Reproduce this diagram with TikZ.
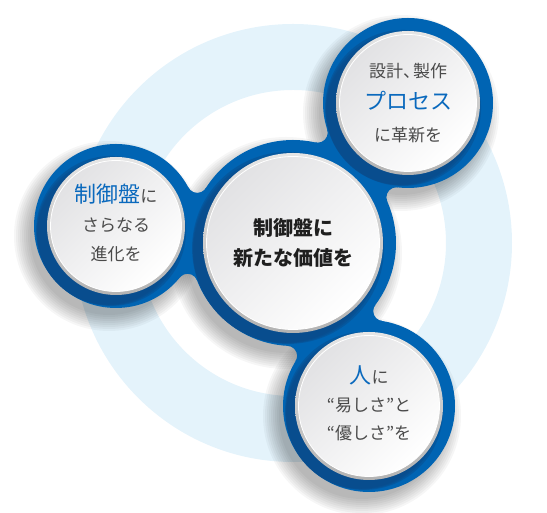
\documentclass[tikz,border=0pt]{standalone}
\usepackage{fontspec}
\setmainfont{Noto Sans CJK JP}
\usetikzlibrary{calc,intersections}

\definecolor{ringblue}{HTML}{E4F3FB}
\definecolor{rimblue}{HTML}{0064B3}
\definecolor{rimdark}{HTML}{0B4A88}
\definecolor{keyblue}{HTML}{0A69BD}
\definecolor{txtgray}{HTML}{4A4A4A}
\definecolor{facegray}{HTML}{E2E2E4}

\newcommand{\keyword}{\fontsize{22}{22}\selectfont\color{keyblue}}

\tikzset{
  sattext/.style={align=center, text=txtgray, font=\fontsize{17}{29}\selectfont},
  hubtext/.style={align=center, text=black!88, font=\bfseries\fontsize{20}{30}\selectfont}
}

\begin{document}
\begin{tikzpicture}[x=1pt, y=1pt]
\useasboundingbox (0,0) rectangle (547,513);

% centres
\coordinate (hub) at (293,270);
\coordinate (tsat) at (408,410);
\coordinate (lsat) at (116,287);
\coordinate (bsat) at (369,107);

% light ring behind
\fill[ringblue, even odd rule] (hub) circle[radius=219] circle[radius=153];

% soft shadows
\foreach \c/\R in {hub/103, tsat/85, lsat/82, bsat/86}
  \foreach \k in {0,...,8}
    \fill[black, opacity=.035] ($(\c)+(-7,-10)$) circle[radius=\R-3+2*\k];

% blue discs
\foreach \c/\R in {hub/103, tsat/85, lsat/82, bsat/86}
  \fill[rimblue] (\c) circle[radius=\R];

% necks between hub and satellites
\foreach \s/\r in {tsat/95, lsat/92, bsat/96}{
  \path[name path=hubr] (hub) circle[radius=113];
  \path[name path=satr] (\s) circle[radius=\r];
  \path[name intersections={of=hubr and satr, name=f}];
  \foreach \f in {f-1,f-2}{
    \begin{scope}[even odd rule]
      \clip (0,0) rectangle (547,513) (\f) circle[radius=10];
      \fill[rimblue] (hub) -- (\f) -- (\s) -- cycle;
    \end{scope}
  }
}

% dark side of the rims
\foreach \c/\R in {hub/103, tsat/85, lsat/82, bsat/86}
  \foreach \o in {7,9,11}
    \fill[rimdark, opacity=.45] ($(\c)+(225:\o)$) circle[radius=\R-\o];

% white faces
\foreach \c/\w in {hub/90, tsat/72, lsat/69, bsat/74}{
  \shade[top color=white!90!black, bottom color=white!70!black] (\c) circle[radius=\w];
  \shadedraw[draw=white, line width=.8pt, top color=facegray, bottom color=white, shading angle=45] (\c) circle[radius=\w-3.5];
}

% texts
\node[hubtext] (value) at (hub) {制御盤に\\新たな価値を};
\node[sattext, font=\fontsize{17}{32}\selectfont] (process) at (tsat) {設計、\kern-7pt製作\\{\keyword プロセス}\\に革新を};
\node[sattext] (evolve) at ($(lsat)+(0,3)$) {{\keyword 制御盤}に\\さらなる\\進化を};
\node[sattext, font=\fontsize{17}{28}\selectfont] (people) at ($(bsat)+(0,3)$) {{\keyword 人}に\\“易しさ”と\\“優しさ”を};
\end{tikzpicture}
\end{document}
